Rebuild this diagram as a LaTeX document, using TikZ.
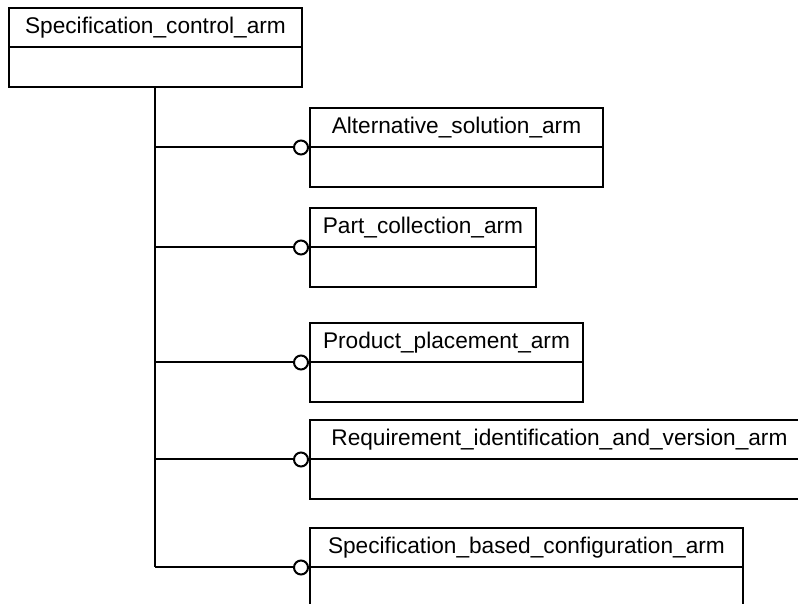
\documentclass[tikz,border=0pt]{standalone}
\usepackage{fontspec}
\setmainfont{Liberation Sans}
\usetikzlibrary{positioning}

\tikzset{
	classhead/.style={
		draw,
		line width=0.04cm,
		outer sep=0pt,
		minimum height=0.79cm,
		inner sep=0pt,
		anchor=north west,
		align=center,
		font=\fontsize{12.9}{14}\selectfont,
	},
	classbody/.style={
		draw,
		line width=0.04cm,
		outer sep=0pt,
		minimum height=0.8cm,
		inner sep=0pt,
		below=0pt of #1,
	},
	lollipop/.style={
		circle,
		draw,
		line width=0.04cm,
		fill=white,
		minimum size=0.28cm,
		inner sep=0pt,
	},
	link/.style={
		line width=0.04cm,
	}
}

\begin{document}
\begin{tikzpicture}[x=0.02cm,y=-0.02cm]
\clip (0,0) rectangle (798,604);
\useasboundingbox (0,0) rectangle (798,604);

% supertype
\node[classhead, minimum width=5.86cm] (h0) at (9,8) {Specification\_control\_arm};
\node[classbody=h0, minimum width=5.86cm] (b0) {};

% subtypes
\node[classhead, minimum width=5.86cm] (h1) at (310,108) {Alternative\_solution\_arm};
\node[classbody=h1, minimum width=5.86cm] (b1) {};
\node[classhead, minimum width=4.52cm] (h2) at (310,208) {Part\_collection\_arm};
\node[classbody=h2, minimum width=4.52cm] (b2) {};
\node[classhead, minimum width=5.46cm] (h3) at (310,323) {Product\_placement\_arm};
\node[classbody=h3, minimum width=5.46cm] (b3) {};
\node[classhead, minimum width=9.98cm] (h4) at (310,420) {Requirement\_identification\_and\_version\_arm};
\node[classbody=h4, minimum width=9.98cm] (b4) {};
\node[classhead, minimum width=8.66cm] (h5) at (310,528) {Specification\_based\_configuration\_arm};
\node[classbody=h5, minimum width=8.66cm] (b5) {};

\coordinate (spine) at (b0.south);

\foreach \i in {1,...,5}{
	\node[lollipop, left=0.02cm of h\i.south west] (c\i) {};
	\draw[link] (spine |- c\i.west) -- (c\i.west);
}
\draw[link] (spine) -- (spine |- c5.west);
\end{tikzpicture}
\end{document}
